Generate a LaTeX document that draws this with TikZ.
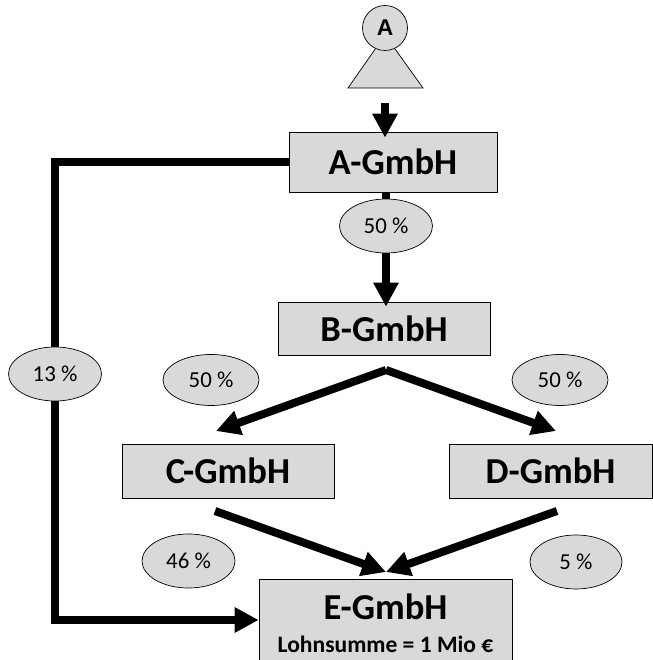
\documentclass[tikz,border=0pt]{standalone}
\usepackage{fontspec}
\setmainfont{Carlito}
\newfontfamily\headfont{Liberation Sans}
\usepackage{tikz}
\usetikzlibrary{arrows.meta,shapes.geometric}
\definecolor{boxgray}{RGB}{217,217,217}

\tikzset{
    firm/.style={draw=black, fill=boxgray, inner sep=0pt, font=\fontsize{20.8}{23}\selectfont\bfseries},
    share/.style={draw=black, fill=boxgray, ellipse, inner sep=0pt, font=\fontsize{13}{15}\selectfont},
    stake/.style={line width=0.16cm, -{Triangle[length=0.48cm, width=0.48cm]}}
}

\begin{document}
\begin{tikzpicture}
                \useasboundingbox (0,0) rectangle (13.04,13.2);

                % shareholder
                \filldraw[fill=boxgray, draw=black] (7.7,12.5) -- (8.46,11.44) -- (6.96,11.44) -- cycle;
                \node[draw=black, fill=boxgray, circle, minimum size=0.9cm, inner sep=0pt, font=\headfont\fontsize{13}{15}\selectfont\bfseries] (owner) at (7.7,12.64) {A};

                % companies
                \node[firm, minimum width=4.16cm, minimum height=1.2cm] (agmbh) at (7.86,9.96) {A-GmbH};
                \node[firm, minimum width=4.24cm, minimum height=1.06cm] (bgmbh) at (7.68,6.63) {B-GmbH};
                \node[firm, minimum width=4.24cm, minimum height=1.08cm] (cgmbh) at (4.56,3.78) {C-GmbH};
                \node[firm, minimum width=4.06cm, minimum height=1.08cm] (dgmbh) at (11.01,3.78) {D-GmbH};
                \node[firm, minimum width=5.06cm, minimum height=1.76cm, align=center] (egmbh) at (7.71,0.74) {E-GmbH\\[-4pt]{\fontsize{13.4}{15}\selectfont Lohnsumme = 1 Mio €}};

                % free ends of the arrows
                \coordinate (split) at (7.72,5.8);
                \coordinate (ctop) at (4.32,4.58);
                \coordinate (dtop) at (11.12,4.58);
                \coordinate (cout) at (4.3,2.98);
                \coordinate (dout) at (11.14,2.98);
                \coordinate (etop) at (7.72,1.76);
                \coordinate (bend) at (1.1,9.96);

                % arrows
                \draw[stake, shorten <=0.3cm, shorten >=-0.12cm] (owner.south |- 0,11.44) -- (owner.south |- agmbh.north);
                \draw[stake, shorten >=-0.1cm] (split |- agmbh.south) -- (split |- bgmbh.north);
                \draw[stake] (agmbh.west) -- (bend) -- (bend |- 0,0.8) -- (egmbh.west |- 0,0.8);
                \draw[stake] (split) -- (ctop);
                \draw[stake] (split) -- (dtop);
                \draw[stake] (cout) -- (etop);
                \draw[stake] (dout) -- (etop);

                % shares
                \node[share, minimum width=1.86cm, minimum height=1.08cm] (shareab) at (7.72,8.68) {50 \%};
                \node[share, minimum width=1.86cm, minimum height=1.08cm] (shareae) at (1.1,5.72) {13 \%};
                \node[share, minimum width=1.92cm, minimum height=1.02cm] (sharebc) at (4.22,5.6) {50 \%};
                \node[share, minimum width=1.92cm, minimum height=1.02cm] (sharebd) at (11.2,5.6) {50 \%};
                \node[share, minimum width=1.86cm, minimum height=1.08cm] (sharece) at (3.77,1.98) {46 \%};
                \node[share, minimum width=1.84cm, minimum height=1.08cm] (sharede) at (11.52,1.96) {5 \%};
\end{tikzpicture}
\end{document}
